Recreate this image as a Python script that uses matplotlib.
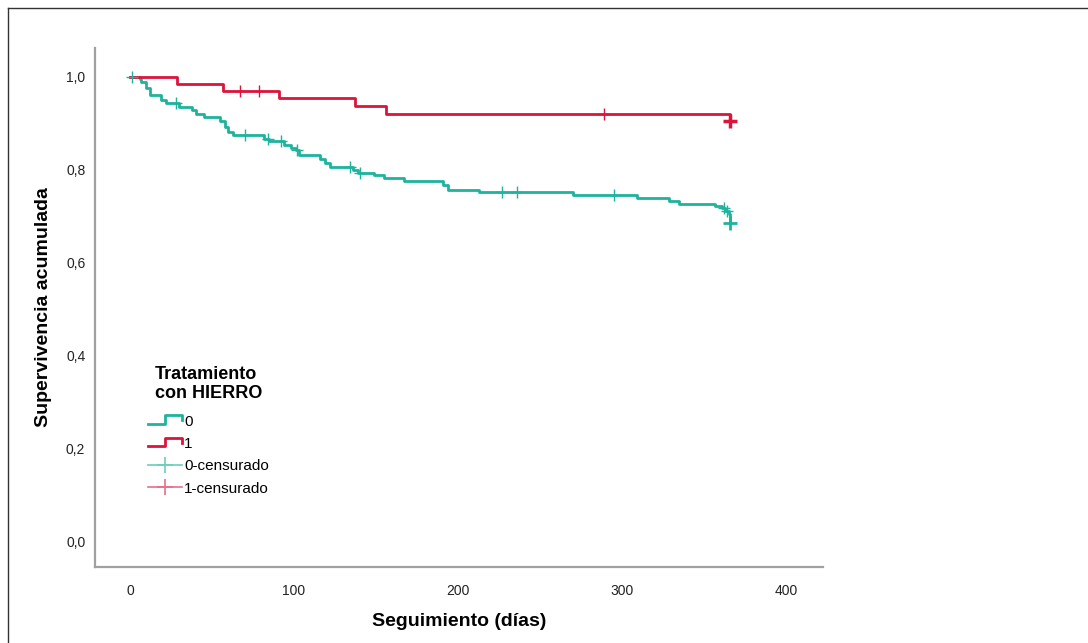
import numpy as np
import matplotlib
matplotlib.use("Agg")
import matplotlib.pyplot as plt
from matplotlib.lines import Line2D
from matplotlib.legend_handler import HandlerBase

plt.rcParams['font.family'] = ['Liberation Sans', 'DejaVu Sans']

# Kaplan-Meier steps: time (days) and survival after the step
t0 = [0, 6, 7, 10, 12, 19, 22, 30, 38, 40, 45, 55, 58, 60, 63, 82, 85, 94, 98,
      101, 103, 116, 119, 122, 136, 139, 149, 155, 167, 191, 194, 213, 270,
      309, 329, 335, 357, 361, 363, 365, 366]
s0 = [1.0, 0.995, 0.989, 0.975, 0.961, 0.950, 0.943, 0.936, 0.929, 0.921,
      0.913, 0.904, 0.893, 0.881, 0.874, 0.867, 0.861, 0.854, 0.848, 0.843,
      0.831, 0.824, 0.814, 0.806, 0.800, 0.794, 0.788, 0.782, 0.777, 0.768,
      0.757, 0.752, 0.745, 0.739, 0.734, 0.727, 0.722, 0.717, 0.711, 0.705,
      0.686]
cens0 = [1, 28, 70, 84, 92, 102, 134, 140, 227, 236, 295, 362, 364]
cens0_end = [366]

t1 = [0, 29, 57, 91, 137, 156, 366]
s1 = [1.0, 0.984, 0.969, 0.954, 0.938, 0.921, 0.905]
cens1 = [67, 79, 289]
cens1_end = [366]

x_ticks = [0, 100, 200, 300, 400]
y_ticks = [0.0, 0.2, 0.4, 0.6, 0.8, 1.0]

green = '#1db39c'
red = '#dc143c'
green_light = '#6ccdbd'
red_light = '#e8708a'


def surv_at(t, s, times):
    idx = np.searchsorted(t, times, side='right') - 1
    return np.asarray(s)[idx]


class HandlerStep(HandlerBase):
    def create_artists(self, legend, orig_handle, xdescent, ydescent,
                       width, height, fontsize, trans):
        x0 = -xdescent
        y0 = -ydescent + 0.15 * height
        y1 = -ydescent + 0.95 * height
        xs = [x0, x0 + 0.5 * width, x0 + 0.5 * width, x0 + width, x0 + width]
        ys = [y0, y0, y1, y1, y0 + 0.35 * height]
        ln = Line2D(xs, ys, color=orig_handle.get_color(), lw=2, transform=trans)
        return [ln]


fig = plt.figure(figsize=(10.88, 6.43), dpi=100)
ax = fig.add_axes([95 / 1088, 1 - 567 / 643, 728 / 1088, 519 / 643])

step0, = ax.step(t0, s0, where='post', color=green, lw=2)
step1, = ax.step(t1, s1, where='post', color=red, lw=2)

ax.plot(cens0, surv_at(t0, s0, cens0), ls='none', marker='+', ms=9,
        mew=1, color=green)
ax.plot(cens0_end, surv_at(t0, s0, cens0_end), ls='none', marker='+', ms=10,
        mew=2, color=green)
ax.plot(cens1, surv_at(t1, s1, cens1), ls='none', marker='+', ms=9,
        mew=1, color=red)
ax.plot(cens1_end, surv_at(t1, s1, cens1_end), ls='none', marker='+', ms=10,
        mew=2.5, color=red)

ax.set_xlim(-21.3, 422.6)
ax.set_ylim(-0.054, 1.062)
ax.set_xticks(x_ticks)
ax.set_xticklabels([str(v) for v in x_ticks])
ax.set_yticks(y_ticks)
ax.set_yticklabels([f'{v:.1f}'.replace('.', ',') for v in y_ticks])
ax.tick_params(length=0, labelsize=10, colors='#222222')
ax.tick_params(axis='x', pad=12)
ax.tick_params(axis='y', pad=7)

for side in ['top', 'right']:
    ax.spines[side].set_visible(False)
for side in ['left', 'bottom']:
    ax.spines[side].set_color('#a0a0a0')
    ax.spines[side].set_linewidth(1.6)

ax.set_xlabel('Seguimiento (días)', fontsize=14, fontweight='bold', labelpad=11)
ax.set_ylabel('Supervivencia acumulada', fontsize=14, fontweight='bold', labelpad=10)

cens_h0 = Line2D([], [], color=green_light, lw=1.2, marker='+', ms=12, mew=1.2)
cens_h1 = Line2D([], [], color=red_light, lw=1.2, marker='+', ms=12, mew=1.2)
leg = ax.legend([step0, step1, cens_h0, cens_h1],
                ['0', '1', '0-censurado', '1-censurado'],
                handler_map={step0: HandlerStep(), step1: HandlerStep()},
                title='Tratamiento\ncon HIERRO', frameon=False,
                loc='upper left', bbox_to_anchor=(0.065, 0.40),
                borderaxespad=0, fontsize=11, handlelength=2.2,
                handletextpad=0.15, labelspacing=0.55,
                title_fontproperties={'weight': 'bold', 'size': 13})
leg._legend_box.sep = 9

# outer frame of the output viewer
fig.add_artist(Line2D([8 / 1088, 1], [1 - 7.5 / 643] * 2,
                      transform=fig.transFigure, color='#333333', lw=1))
fig.add_artist(Line2D([8 / 1088] * 2, [0, 1 - 7.5 / 643],
                      transform=fig.transFigure, color='#333333', lw=1))

fig.savefig('out.png', dpi=100)
